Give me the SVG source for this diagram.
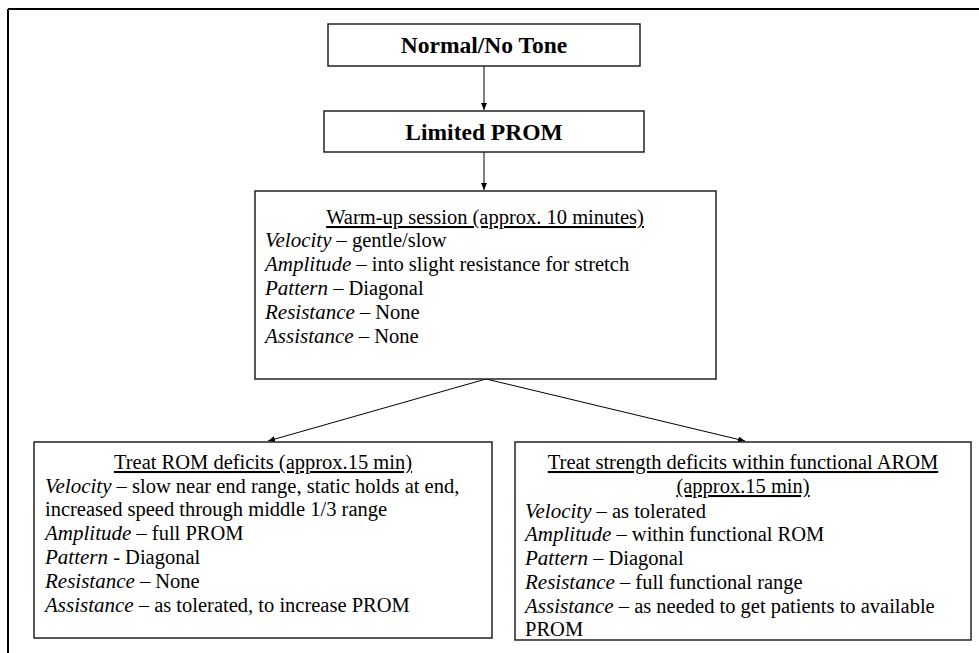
<svg xmlns="http://www.w3.org/2000/svg" width="979" height="653" viewBox="0 0 979 653">
<style>
.box{fill:#fff;stroke:#222;stroke-width:1.5}
.t{font-family:'Liberation Serif','Times New Roman','DejaVu Serif',serif;font-size:20.5px;fill:#000}
.title{font-family:'Liberation Serif','Times New Roman','DejaVu Serif',serif;font-size:23.5px;font-weight:bold;fill:#000}
.i{font-style:italic;font-size:21px}
.h{text-decoration:underline}
.conn{stroke:#000;stroke-width:1;fill:none;marker-end:url(#arr)}
</style>
<defs>
<marker id="arr" markerWidth="8" markerHeight="8" refX="7" refY="4" orient="auto" markerUnits="userSpaceOnUse">
<path d="M0,1 L7,4 L0,7 Z" fill="#000"/>
</marker>
</defs>
<rect width="979" height="653" fill="#fff"/>
<g id="frame">
<line x1="8" y1="9" x2="979" y2="9" stroke="#000" stroke-width="2"/>
<line x1="8" y1="9" x2="8" y2="653" stroke="#000" stroke-width="2"/>
</g>
<g id="connectors">
<line class="conn" x1="484" y1="66" x2="484" y2="110"/>
<line class="conn" x1="484" y1="152" x2="484" y2="190"/>
<line class="conn" x1="486" y1="379" x2="268" y2="441"/>
<line class="conn" x1="486" y1="379" x2="745" y2="441"/>
</g>
<g id="normal">
<rect class="box" x="328" y="24" width="312" height="42"/>
<text class="title" x="484" y="53" text-anchor="middle">Normal/No Tone</text>
</g>
<g id="limited">
<rect class="box" x="324" y="111" width="320" height="41"/>
<text class="title" x="484" y="140" text-anchor="middle">Limited PROM</text>
</g>
<g id="warmup">
<rect class="box" x="255" y="191" width="461" height="188"/>
<text class="t h" x="485" y="224" text-anchor="middle">Warm-up session (approx. 10 minutes)</text>
<text class="t" x="265" y="247"><tspan class="i">Velocity</tspan> – gentle/slow</text>
<text class="t" x="265" y="271"><tspan class="i">Amplitude</tspan> – into slight resistance for stretch</text>
<text class="t" x="265" y="295"><tspan class="i">Pattern</tspan> – Diagonal</text>
<text class="t" x="265" y="319"><tspan class="i">Resistance</tspan> – None</text>
<text class="t" x="265" y="343"><tspan class="i">Assistance</tspan> – None</text>
</g>
<g id="rom">
<rect class="box" x="34" y="442" width="458" height="196"/>
<text class="t h" x="263" y="469" text-anchor="middle">Treat ROM deficits (approx.15 min)</text>
<text class="t" x="45" y="493"><tspan class="i">Velocity</tspan> – slow near end range, static holds at end,</text>
<text class="t" x="45" y="516">increased speed through middle 1/3 range</text>
<text class="t" x="45" y="540"><tspan class="i">Amplitude</tspan> – full PROM</text>
<text class="t" x="45" y="564"><tspan class="i">Pattern</tspan> - Diagonal</text>
<text class="t" x="45" y="588"><tspan class="i">Resistance</tspan> – None</text>
<text class="t" x="45" y="612"><tspan class="i">Assistance</tspan> – as tolerated, to increase PROM</text>
</g>
<g id="strength">
<rect class="box" x="515" y="442" width="456" height="198"/>
<text class="t h" x="743" y="469" text-anchor="middle">Treat strength deficits within functional AROM</text>
<text class="t h" x="743" y="493" text-anchor="middle">(approx.15 min)</text>
<text class="t" x="525" y="518"><tspan class="i">Velocity</tspan> – as tolerated</text>
<text class="t" x="525" y="541"><tspan class="i">Amplitude</tspan> – within functional ROM</text>
<text class="t" x="525" y="565"><tspan class="i">Pattern</tspan> – Diagonal</text>
<text class="t" x="525" y="589"><tspan class="i">Resistance</tspan> – full functional range</text>
<text class="t" x="525" y="613"><tspan class="i">Assistance</tspan> – as needed to get patients to available</text>
<text class="t" x="525" y="636">PROM</text>
</g>
</svg>
